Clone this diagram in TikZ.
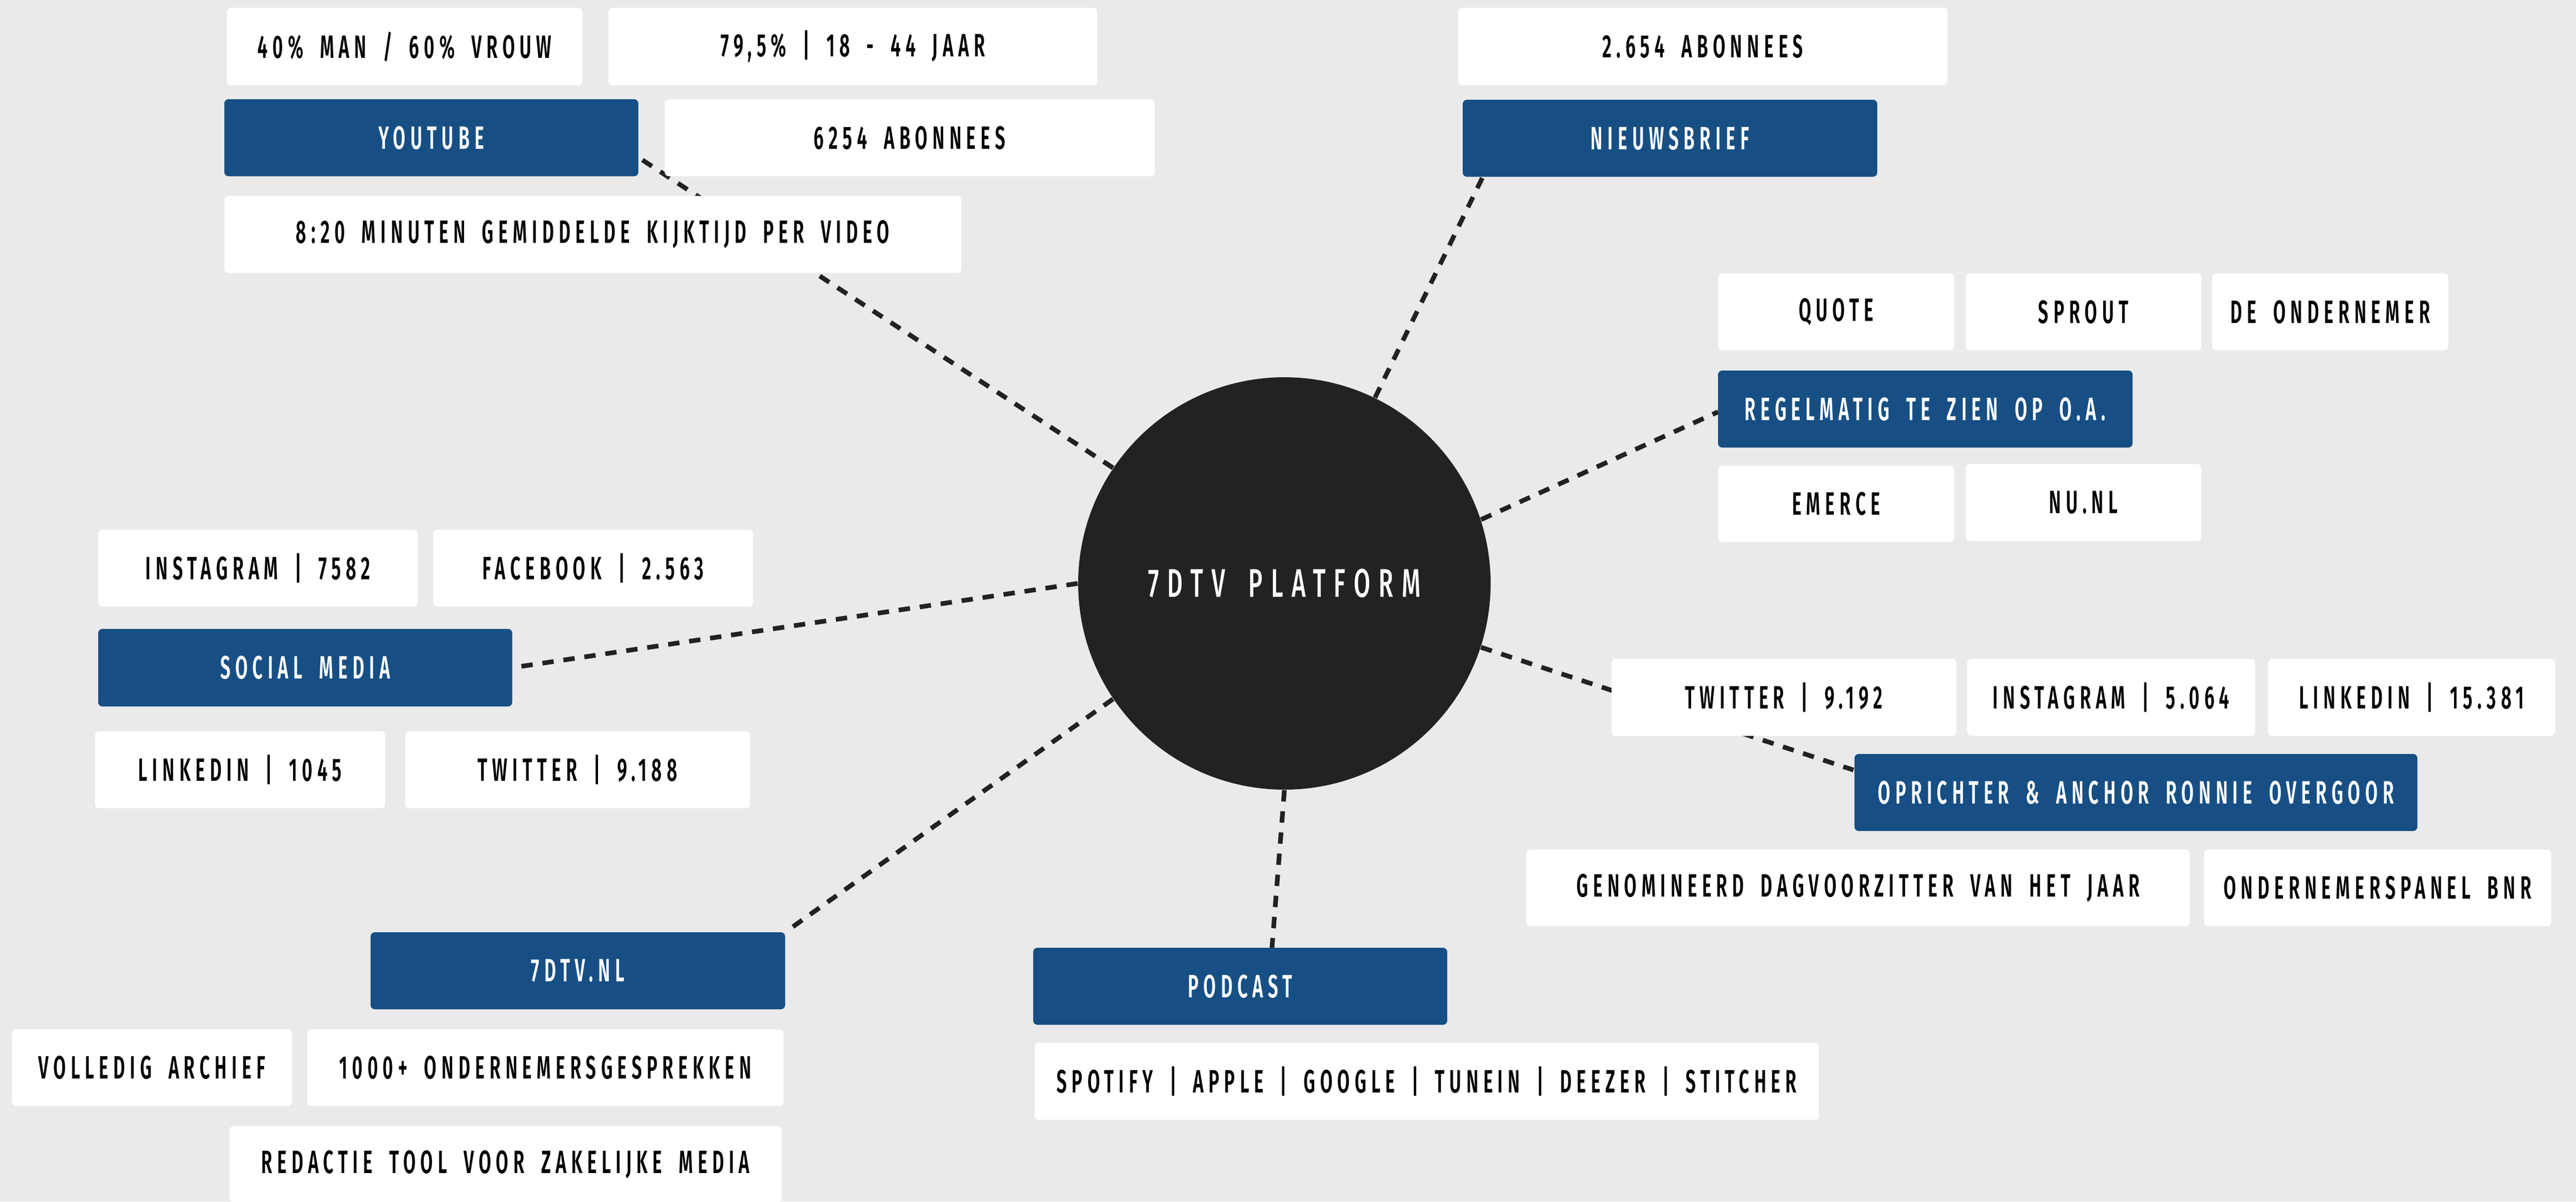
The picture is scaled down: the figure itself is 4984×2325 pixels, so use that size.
\documentclass[tikz,border=0pt]{standalone}
\usepackage{fontspec}
\newfontfamily\labfont{Fira Sans SemiBold}[FakeStretch=0.56,LetterSpace=15,WordSpace=1.8]
\newfontfamily\hubfont{Fira Sans Medium}[FakeStretch=0.6,LetterSpace=21,WordSpace=1.6]
\definecolor{bgc}{HTML}{EAEAEA}
\definecolor{navy}{HTML}{174F84}
\definecolor{ink}{HTML}{222222}
\pgfdeclarelayer{bglayer}
\pgfdeclarelayer{linelayer}
\pgfsetlayers{bglayer,linelayer,main}
\newcommand\bx[7]{\node[#6, minimum width={(#4-#2)*0.2pt}, minimum height={(#5-#3)*0.2pt}] (#1) at ({(#2+#4)/2},{(#3+#5)/2}) {#7};}
\tikzset{
  boxbase/.style={rectangle, rounded corners=1.6pt, inner sep=0pt, outer sep=0pt, font=\labfont\fontsize{12.5}{14}\selectfont},
  wbox/.style={boxbase, fill=white, text=black},
  bbox/.style={boxbase, fill=navy, text=white},
  link/.style={draw=ink, line width=1.8pt, dash pattern=on 4.4pt off 3.8pt},
}
\begin{document}
\begin{tikzpicture}[x=0.2pt,y={(0pt,-0.2pt)}]
\begin{pgfonlayer}{bglayer}
\fill[bgc] (0,0) rectangle (4984,2325);
\end{pgfonlayer}
\useasboundingbox (0,0) rectangle (4984,2325);
% hub
\node[circle, fill=ink, minimum size={798*0.2pt}, inner sep=0pt, text=white, font=\hubfont\fontsize{15.5}{17}\selectfont] (hub) at (2485,1129) {7DTV PLATFORM};
% white boxes
\bx{man}{439}{15}{1127}{165}{wbox}{40\% MAN / 60\% VROUW}
\bx{age}{1177}{15}{2123}{165}{wbox}{79,5\% | 18 - 44 JAAR}
\bx{ytsub}{1286}{192}{2234}{341}{wbox}{6254 ABONNEES}
\bx{watch}{434}{379}{1860}{528}{wbox}{8:20 MINUTEN GEMIDDELDE KIJKTIJD PER VIDEO}
\bx{igone}{190}{1025}{808}{1174}{wbox}{INSTAGRAM | 7582}
\bx{fb}{838}{1025}{1457}{1174}{wbox}{FACEBOOK | 2.563}
\bx{lione}{184}{1415}{745}{1564}{wbox}{LINKEDIN | 1045}
\bx{twone}{784}{1415}{1451}{1564}{wbox}{TWITTER | 9.188}
\bx{arch}{23}{1992}{565}{2140}{wbox}{VOLLEDIG ARCHIEF}
\bx{talks}{594}{1992}{1516}{2140}{wbox}{1000+ ONDERNEMERSGESPREKKEN}
\bx{tool}{444}{2179}{1512}{2327}{wbox}{REDACTIE TOOL VOOR ZAKELIJKE MEDIA}
\bx{spot}{2002}{2018}{3519}{2167}{wbox}{SPOTIFY | APPLE | GOOGLE | TUNEIN | DEEZER | STITCHER}
\bx{nwsub}{2821}{15}{3768}{165}{wbox}{2.654 ABONNEES}
\bx{quote}{3324}{529}{3781}{678}{wbox}{QUOTE}
\bx{sprout}{3803}{529}{4259}{678}{wbox}{SPROUT}
\bx{ondn}{4280}{529}{4737}{678}{wbox}{DE ONDERNEMER}
\bx{emerce}{3324}{901}{3781}{1049}{wbox}{EMERCE}
\bx{nunl}{3803}{898}{4259}{1047}{wbox}{NU.NL}
\bx{twtwo}{3118}{1275}{3785}{1424}{wbox}{TWITTER | 9.192}
\bx{igtwo}{3806}{1275}{4363}{1424}{wbox}{INSTAGRAM | 5.064}
\bx{litwo}{4388}{1275}{4944}{1424}{wbox}{LINKEDIN | 15.381}
\bx{nom}{2953}{1644}{4237}{1792}{wbox}{GENOMINEERD DAGVOORZITTER VAN HET JAAR}
\bx{bnr}{4264}{1644}{4936}{1792}{wbox}{ONDERNEMERSPANEL BNR}
% blue boxes
\bx{yt}{434}{192}{1235}{341}{bbox}{YOUTUBE}
\bx{nws}{2830}{193}{3632}{342}{bbox}{NIEUWSBRIEF}
\bx{reg}{3324}{717}{4126}{866}{bbox}{REGELMATIG TE ZIEN OP O.A.}
\bx{soc}{190}{1217}{991}{1367}{bbox}{SOCIAL MEDIA}
\bx{web}{717}{1804}{1519}{1953}{bbox}{7DTV.NL}
\bx{pod}{1999}{1834}{2800}{1983}{bbox}{PODCAST}
\bx{opr}{3588}{1459}{4677}{1608}{bbox}{OPRICHTER \& ANCHOR RONNIE OVERGOOR}
% connector ends
\coordinate (ytEnd) at (1239,307);
\coordinate (nwsEnd) at (2869,342);
\coordinate (regEnd) at (3324,797);
\coordinate (podEnd) at (2461,1834);
\coordinate (oprEnd) at (3586,1490);
\begin{pgfonlayer}{linelayer}
\draw[link] (hub.146.3) -- (ytEnd);
\draw[link] (hub.64.8) -- (nwsEnd);
\draw[link] (hub.18.7) -- (regEnd);
\draw[link] (hub.180) -- (soc.east);
\draw[link] (hub.214.7) -- (web.north east);
\draw[link] (hub.270.7) -- (podEnd);
\draw[link] (hub.342.4) -- (oprEnd);
\end{pgfonlayer}
\end{tikzpicture}
\end{document}
